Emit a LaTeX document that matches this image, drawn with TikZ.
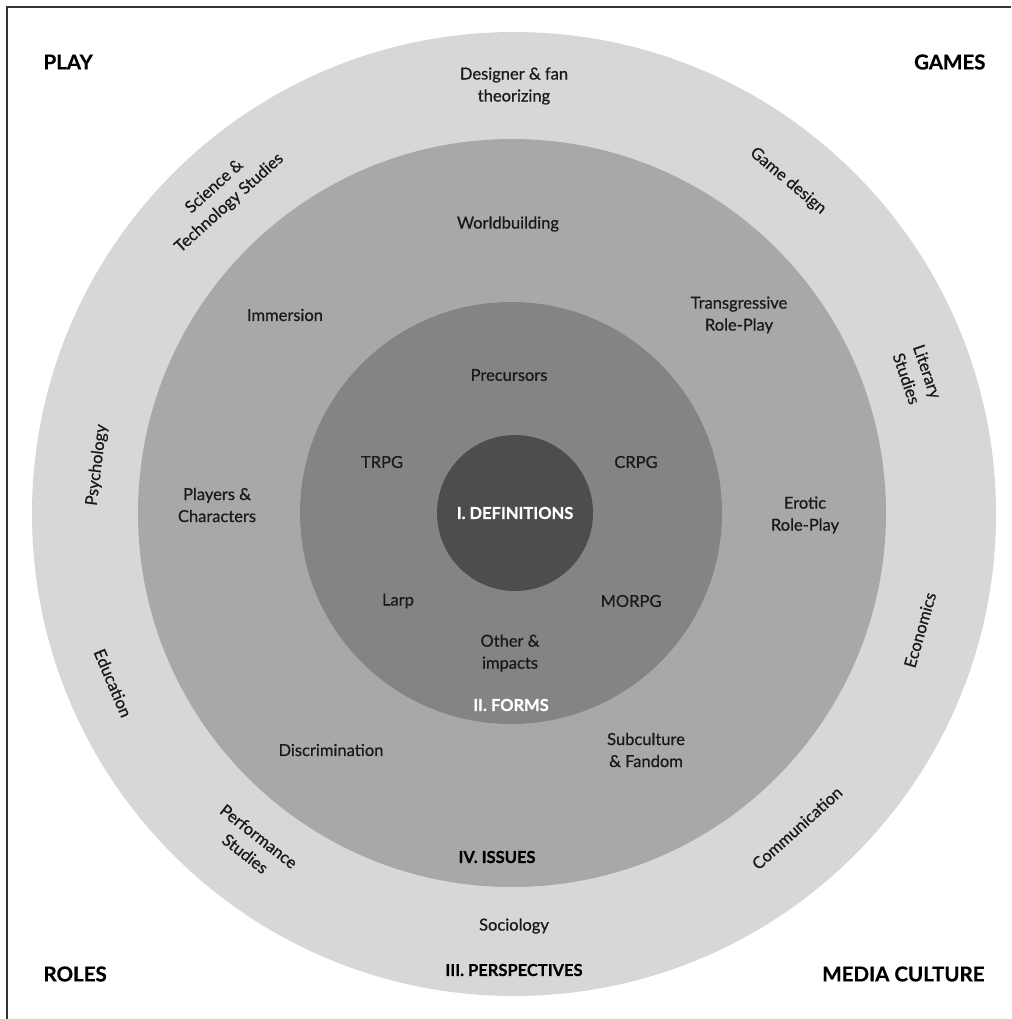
\documentclass[tikz,border=0pt]{standalone}
\usepackage{fontspec}
\setmainfont{Lato}
\newfontfamily\topicfont{Lato}[FakeBold=0.6]
\newfontfamily\headfont{Lato Bold}[FakeBold=0.5]
\usetikzlibrary{positioning}

\definecolor{ringOuter}{HTML}{D7D7D7}
\definecolor{ringMid}{HTML}{A8A8A8}
\definecolor{ringInner}{HTML}{848484}
\definecolor{ringCore}{HTML}{4D4D4D}

\tikzset{
	ring/.style={circle, draw=none, inner sep=0pt},
	topic/.style={align=center, text=black!90, font=\topicfont\fontsize{16.5}{22}\selectfont},
	part/.style={align=center, font=\headfont\fontsize{16.5}{20}\selectfont},
	corner/.style={font=\headfont\fontsize{20.5}{24}\selectfont},
}

\begin{document}
\begin{tikzpicture}[x=1pt, y=-1pt]
			
			\useasboundingbox (0,0) rectangle (1011,1019);
			\draw[line width=1.8pt, black!80] (7,1019) -- (7,7) -- (1011,7);
			
			%Rings
			\node (Perspectives) at (514,514) [ring, fill=ringOuter, minimum size=964pt]{};
			\node (Issues) at (512,513) [ring, fill=ringMid, minimum size=748pt]{};
			\node (Forms) at (511,513) [ring, fill=ringInner, minimum size=422pt]{};
			\node (Definitions) at (515,513) [ring, fill=ringCore, minimum size=156pt]{};
			
			%Corners
			\node (Play) at (40,62) [corner, anchor=west]{PLAY};
			\node (Games) at (989,62) [corner, anchor=east]{GAMES};
			\node (Roles) at (40,974) [corner, anchor=west]{ROLES};
			\node (MediaCulture) at (988,974) [corner, anchor=east]{MEDIA CULTURE};
			
			%Headings
			\node (DefinitionsTitle) at (Definitions) [part, text=white]{I. DEFINITIONS};
			\node (FormsTitle) at (511,705) [part, text=white]{II. FORMS};
			\node (PerspectivesTitle) at (514,970) [part]{III. PERSPECTIVES};
			\node (IssuesTitle) at (497,857) [part]{IV. ISSUES};
			
			%Forms
			\node (Precursors) at (509,375) [topic]{Precursors};
			\node (TRPG) at (382,462) [topic]{TRPG};
			\node (CRPG) at (636,462) [topic]{CRPG};
			\node (Larp) at (398,601) [topic]{Larp};
			\node (MORPG) at (631,601) [topic]{MORPG};
			\node (Other) at (510,653) [topic]{Other \&\\impacts};
			
			%Issues
			\node (Worldbuilding) at (508,224) [topic]{Worldbuilding};
			\node (Immersion) at (285,315) [topic]{Immersion};
			\node (Transgressive) at (739,315) [topic]{Transgressive\\Role-Play};
			\node (Players) at (217,505) [topic]{Players \&\\Characters};
			\node (Erotic) at (805,515) [topic]{Erotic\\Role-Play};
			\node (Discrimination) at (331,750) [topic]{Discrimination};
			\node (Subculture) at (646,750) [topic]{Subculture\\\& Fandom};
			
			%Perspectives
			\node (Designer) at (514,86) [topic]{Designer \& fan\\theorizing};
			\node (STS) at (222,195) [topic, rotate=42]{Science \&\\Technology Studies};
			\node (GameDesign) at (788,181) [topic, rotate=-40]{Game design};
			\node (Literary) at (917,375) [topic, rotate=-71]{Literary\\Studies};
			\node (Psychology) at (97,465) [topic, rotate=83]{Psychology};
			\node (Economics) at (920,630) [topic, rotate=74]{Economics};
			\node (Education) at (113,683) [topic, rotate=-67]{Education};
			\node (Performance) at (252,845) [topic, rotate=-38]{Performance\\Studies};
			\node (Communication) at (797,828) [topic, rotate=42]{Communication};
			\node (Sociology) at (514,926) [topic]{Sociology};
			
			\end{tikzpicture}
\end{document}
